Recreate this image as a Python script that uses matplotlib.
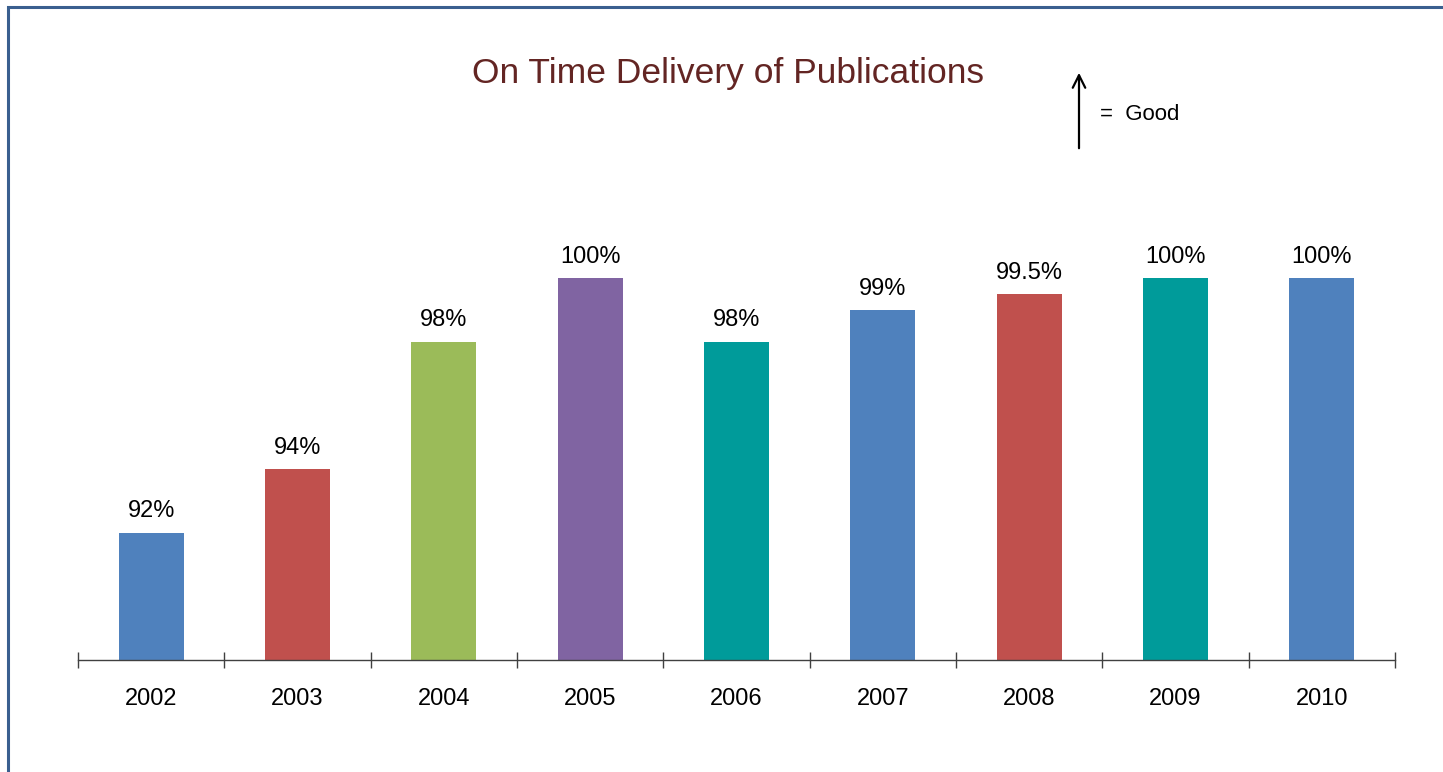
import matplotlib.pyplot as plt
from matplotlib.lines import Line2D

years = ['2002', '2003', '2004', '2005', '2006', '2007', '2008', '2009', '2010']
on_time = [92, 94, 98, 100, 98, 99, 99.5, 100, 100]
labels = ['92%', '94%', '98%', '100%', '98%', '99%', '99.5%', '100%', '100%']
colors = ['#4F81BD', '#C0504D', '#9BBB59', '#8064A2', '#009B9A',
          '#4F81BD', '#C0504D', '#009B9A', '#4F81BD']

W, H = 1443, 772
fig = plt.figure(figsize=(W / 100, H / 100), dpi=100)
fig.patch.set_facecolor('white')

# axes placed in pixel terms
left, right, base, top = 78, 1395, 660, 151
ax = fig.add_axes([left / W, (H - base) / H, (right - left) / W, (base - top) / H])

x = range(len(years))
ax.bar(x, [v - 88 for v in on_time], bottom=88, width=0.445, color=colors)
ax.set_ylim(88, 104)
ax.set_xlim(-0.5, len(years) - 0.5)

for i, (v, lab) in enumerate(zip(on_time, labels)):
    ax.annotate(lab, (i, v), xytext=(0, 7.5), textcoords='offset points',
                ha='center', va='bottom', fontsize=17,
                family=['Liberation Sans', 'DejaVu Sans'])

for s in ['top', 'right', 'left']:
    ax.spines[s].set_visible(False)
ax.spines['bottom'].set_color('#404040')
ax.spines['bottom'].set_linewidth(1.0)
ax.set_yticks([])
ax.set_xticks(list(x))
ax.set_xticklabels(years, fontsize=17, family=['Liberation Sans', 'DejaVu Sans'])
ax.tick_params(axis='x', which='major', length=0, pad=20)
ax.set_xticks([i - 0.5 for i in range(len(years) + 1)], minor=True)
ax.tick_params(axis='x', which='minor', direction='inout', length=11,
               width=1.0, color='#404040')

# title
fig.text(728 / W, 1 - 74 / H, 'On Time Delivery of Publications',
         ha='center', va='center', fontsize=25.5, color='#632523',
         family=['Liberation Sans Narrow', 'Liberation Sans', 'DejaVu Sans'])

# arrow = Good
fig.add_artist(plt.Annotation('', xy=(1079 / W, 1 - 70 / H), xycoords='figure fraction',
                              xytext=(1079 / W, 1 - 151 / H), textcoords='figure fraction',
                              arrowprops=dict(arrowstyle='->,head_length=0.9,head_width=0.45',
                                              color='black', lw=1.6)))
fig.text(1100 / W, 1 - 115 / H, '=  Good', ha='left', va='center', fontsize=16,
         family=['Liberation Sans Narrow', 'Liberation Sans', 'DejaVu Sans'])

# frame on left and top
fig.add_artist(Line2D([8 / W, 8 / W, 1.0], [0.0, 1 - 7 / H, 1 - 7 / H],
                      transform=fig.transFigure, color='#3A5F8F', lw=2.2,
                      solid_joinstyle='miter'))

fig.savefig('out.png', dpi=100)
